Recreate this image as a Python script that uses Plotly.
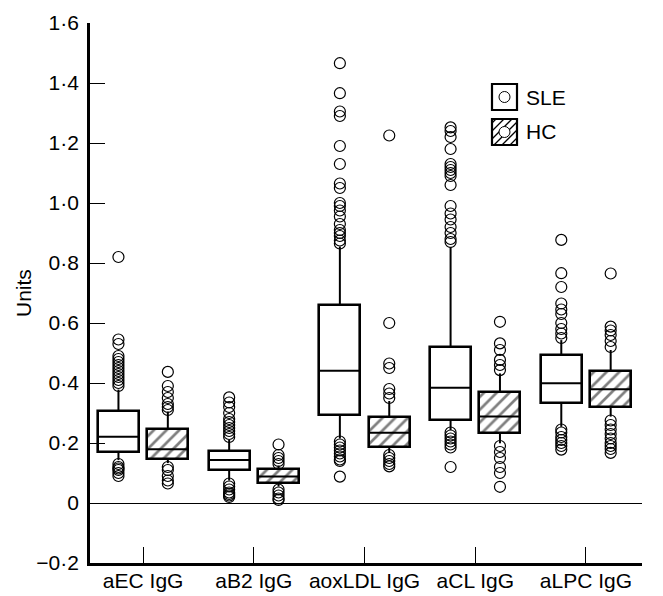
import plotly.graph_objects as go

categories = ["aEC IgG", "aB2 IgG", "aoxLDL IgG", "aCL IgG", "aLPC IgG"]

sle_q1 = [0.170, 0.110, 0.293, 0.277, 0.332]
sle_median = [0.221, 0.143, 0.441, 0.384, 0.399]
sle_q3 = [0.307, 0.174, 0.660, 0.521, 0.493]
sle_lower = [0.143, 0.075, 0.215, 0.243, 0.254]
sle_upper = [0.378, 0.210, 0.855, 0.854, 0.543]
sle_outliers = [
    [0.09, 0.10, 0.11, 0.115, 0.12, 0.13, 0.39, 0.40, 0.41, 0.42, 0.43, 0.44, 0.45, 0.46,
     0.47, 0.48, 0.49, 0.53, 0.545, 0.82],
    [0.02, 0.025, 0.03, 0.035, 0.045, 0.055, 0.065, 0.22, 0.23, 0.24, 0.25, 0.26, 0.27,
     0.28, 0.30, 0.32, 0.335, 0.352],
    [0.088, 0.14, 0.145, 0.155, 0.165, 0.175, 0.185, 0.195, 0.205, 0.865, 0.875, 0.89,
     0.90, 0.91, 0.93, 0.955, 0.975, 0.99, 1.00, 1.05, 1.065, 1.13, 1.19, 1.29, 1.305,
     1.366, 1.466],
    [0.12, 0.185, 0.195, 0.205, 0.215, 0.225, 0.235, 0.87, 0.88, 0.90, 0.92, 0.945, 0.965,
     0.99, 1.06, 1.09, 1.10, 1.11, 1.12, 1.13, 1.18, 1.22, 1.24, 1.252],
    [0.178, 0.19, 0.20, 0.21, 0.22, 0.235, 0.245, 0.55, 0.565, 0.58, 0.60, 0.63, 0.645,
     0.665, 0.72, 0.766, 0.877],
]

hc_q1 = [0.146, 0.068, 0.188, 0.232, 0.321]
hc_median = [0.179, 0.088, 0.234, 0.288, 0.379]
hc_q3 = [0.248, 0.113, 0.288, 0.369, 0.441]
hc_lower = [0.133, 0.055, 0.167, 0.199, 0.288]
hc_upper = [0.305, 0.125, 0.340, 0.432, 0.510]
hc_outliers = [
    [0.065, 0.075, 0.09, 0.11, 0.12, 0.31, 0.32, 0.33, 0.35, 0.37, 0.39, 0.437],
    [0.01, 0.015, 0.025, 0.035, 0.045, 0.13, 0.14, 0.15, 0.16, 0.195],
    [0.122, 0.13, 0.14, 0.15, 0.16, 0.35, 0.365, 0.38, 0.45, 0.465, 0.60, 1.225],
    [0.054, 0.10, 0.12, 0.15, 0.17, 0.19, 0.443, 0.46, 0.477, 0.51, 0.532, 0.604],
    [0.167, 0.18, 0.19, 0.20, 0.215, 0.23, 0.245, 0.26, 0.275, 0.52, 0.54, 0.56, 0.575,
     0.588, 0.765],
]

y_ticks = [-0.2, 0, 0.2, 0.4, 0.6, 0.8, 1.0, 1.2, 1.4, 1.6]
y_tick_labels = ["\u22120\u00b72", "0", "0\u00b72", "0\u00b74", "0\u00b76", "0\u00b78",
                 "1\u00b70", "1\u00b72", "1\u00b74", "1\u00b76"]

FONT = "Liberation Sans, Arial, Helvetica, sans-serif"
FS = 21
OFFSET = 0.223
BOX_W = 0.37
positions = list(range(len(categories)))

fig = go.Figure()


def add_series(name, offset, q1, med, q3, lo, hi, outl, hatched):
    xs = [p + offset for p in positions]
    pattern = dict(shape="/", fgcolor="black", bgcolor="white", size=9, solidity=0.3) if hatched else dict(shape="")
    fig.add_trace(go.Bar(
        x=xs, y=[b - a for a, b in zip(q1, q3)], base=q1, width=BOX_W,
        marker=dict(color="white", line=dict(color="black", width=2.6), pattern=pattern),
        name=name, showlegend=False, hoverinfo="skip"))
    wx, wy = [], []
    for x, a, b, l, h in zip(xs, q1, q3, lo, hi):
        wx += [x, x, None, x, x, None]
        wy += [b, h, None, a, l, None]
    fig.add_trace(go.Scatter(x=wx, y=wy, mode="lines", line=dict(color="black", width=2),
                             showlegend=False, hoverinfo="skip"))
    mx, my = [], []
    for x, m in zip(xs, med):
        mx += [x - BOX_W / 2, x + BOX_W / 2, None]
        my += [m, m, None]
    fig.add_trace(go.Scatter(x=mx, y=my, mode="lines", line=dict(color="black", width=2),
                             showlegend=False, hoverinfo="skip"))
    ox, oy = [], []
    for x, vals in zip(xs, outl):
        ox += [x] * len(vals)
        oy += vals
    fig.add_trace(go.Scatter(x=ox, y=oy, mode="markers",
                             marker=dict(symbol="circle-open", size=11, color="black",
                                         line=dict(width=1.2, color="black")),
                             showlegend=False, hoverinfo="skip"))


add_series("SLE", -OFFSET, sle_q1, sle_median, sle_q3, sle_lower, sle_upper, sle_outliers, False)
add_series("HC", OFFSET, hc_q1, hc_median, hc_q3, hc_lower, hc_upper, hc_outliers, True)

# page has an 8px body margin: the figure starts at (8, 8)
PAGE_OFF = 8
FIG_W, FIG_H = 663 - PAGE_OFF, 596 - PAGE_OFF
# plot area in page pixels
L, R, T, B = 90, 642, 23, 563
W, H = R - L, B - T


def px(x):
    return (x - L) / W


def py(y):
    return (B - y) / H


shapes = []
annotations = []
legend_items = [("SLE", 84, False), ("HC", 119, True)]
for label, top, hatched in legend_items:
    x0, x1, y0, y1 = 492, 517, top, top + 26
    if hatched:
        path = ""
        for k in range(-22, 26, 8):
            xa, ya = x0 + k, y1
            xb, yb = x0 + k + 26, y0
            if xa < x0:
                ya = y1 - (x0 - xa)
                xa = x0
            if xb > x1:
                yb = y0 + (xb - x1)
                xb = x1
            if xa < xb:
                path += f"M{px(xa)},{py(ya)} L{px(xb)},{py(yb)} "
        shapes.append(dict(type="path", path=path, xref="paper", yref="paper",
                           line=dict(color="black", width=1.3)))
    shapes.append(dict(type="rect", xref="paper", yref="paper", x0=px(x0), x1=px(x1),
                       y0=py(y1), y1=py(y0), line=dict(color="black", width=2.2)))
    cx, cy = (x0 + x1) / 2, (y0 + y1) / 2
    shapes.append(dict(type="circle", xref="paper", yref="paper", x0=px(cx - 5.5), x1=px(cx + 5.5),
                       y0=py(cy + 5.5), y1=py(cy - 5.5), line=dict(color="black", width=1),
                       fillcolor="white" if hatched else "rgba(0,0,0,0)"))
    annotations.append(dict(text=label, xref="paper", yref="paper", x=px(524), y=py(cy),
                            xanchor="left", yanchor="middle", showarrow=False,
                            font=dict(family=FONT, size=FS, color="black")))

annotations.append(dict(text="Units", xref="paper", yref="paper", x=px(23), y=py(293),
                        xanchor="center", yanchor="middle", textangle=-90, showarrow=False,
                        font=dict(family=FONT, size=FS, color="black")))

fig.update_layout(
    width=FIG_W, height=FIG_H,
    margin=dict(l=L - PAGE_OFF, r=FIG_W - (R - PAGE_OFF), t=T - PAGE_OFF,
                b=FIG_H - (B - PAGE_OFF), autoexpand=False),
    paper_bgcolor="white", plot_bgcolor="white",
    barmode="overlay", bargap=0,
    font=dict(family=FONT, size=FS, color="black"),
    shapes=shapes, annotations=annotations,
    showlegend=False,
    xaxis=dict(range=[-0.48, 4.506], tickvals=positions, ticktext=categories,
               showline=True, linecolor="black", linewidth=2.8, ticks="inside",
               ticklen=16, tickwidth=1.2, tickcolor="black", showgrid=False,
               zeroline=False, automargin=False, ticklabelstandoff=-3,
               tickfont=dict(family=FONT, size=FS, color="black")),
    yaxis=dict(range=[-0.2, 1.6], tickvals=y_ticks, ticktext=y_tick_labels,
               showline=True, linecolor="black", linewidth=2.8, ticks="inside",
               ticklen=15, tickwidth=1.2, tickcolor="black", showgrid=False,
               zeroline=True, zerolinecolor="black", zerolinewidth=1, automargin=False,
               ticklabelstandoff=4,
               tickfont=dict(family=FONT, size=FS, color="black")),
)

fig.write_html("out.html")
